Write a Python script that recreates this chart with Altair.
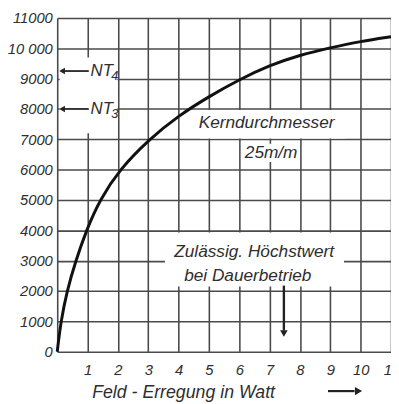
import altair as alt
import pandas as pd

# ---- data ----
curve_x = [0, 0.12, 0.32, 0.61, 0.96, 1.4, 2.05, 3.03, 4.0, 5.0, 6.0, 7.0, 8.0, 9.0, 10.0, 11.0]
curve_y = [0, 1000, 2000, 3000, 4000, 5000, 6000, 7000, 7780, 8410, 8970, 9440, 9780, 10020, 10230, 10380]

x_ticks = list(range(0, 12))
y_ticks = list(range(0, 11001, 1000))

# white label backgrounds (data units)
mask_x = [0.08, 4.7, 6.15, 3.55]
mask_x2 = [1.98, 9.5, 7.85, 9.45]
mask_y = [7200, 7030, 6250, 2150]
mask_y2 = [9700, 7970, 6850, 3930]

label_text = ["Kerndurchmesser", "25m/m", "Zulässig. Höchstwert", "bei Dauerbetrieb"]
label_x = [6.9, 7.05, 6.49, 6.28]
label_y = [7530, 6560, 3280, 2500]

nt_main = ["NT", "NT"]
nt_sub = ["4", "3"]
nt_y = [9250, 8000]
nt_arrow_x = [0.16, 0.16]
nt_arrow_x2 = [1.04, 1.04]
nt_text_x = [1.1, 1.1]

down_x = [7.47]
down_y = [2180]
down_y2 = [700]
down_head_y = [600]

FONT = "Liberation Sans"
TXT = "#2e2e2e"
GRID = "#4a4a4a"
W, H = 339, 339

curve_df = pd.DataFrame({"x": curve_x, "y": curve_y})
mask_df = pd.DataFrame({"x": mask_x, "x2": mask_x2, "y": mask_y, "y2": mask_y2})
lab_df = pd.DataFrame({"t": label_text, "x": label_x, "y": label_y})
nt_df = pd.DataFrame({"m": nt_main, "s": nt_sub, "y": nt_y, "ax": nt_arrow_x,
                      "ax2": nt_arrow_x2, "tx": nt_text_x})
down_df = pd.DataFrame({"x": down_x, "y": down_y, "y2": down_y2, "hy": down_head_y})

xs = alt.Scale(domain=[0, 11], nice=False, zero=False)
ys = alt.Scale(domain=[0, 11000], nice=False)

X_TITLE = "Feld - Erregung in Watt"
x_axis = alt.Axis(values=x_ticks, grid=True, gridColor=GRID, gridWidth=1.6, gridOpacity=1,
                  domain=False, ticks=False, labelPadding=11, labelFont=FONT,
                  labelFontStyle="italic", labelFontSize=15, labelColor=TXT,
                  labelExpr="datum.value == 0 ? '' : datum.label", labelFlush=False,
                  title=X_TITLE, titleFont=FONT, titleFontStyle="italic",
                  titleFontWeight="normal", titleFontSize=18, titleColor=TXT,
                  titleAnchor="start", titleAlign="left", titleX=35, titleY=46,
                  titleBaseline="alphabetic")
y_axis = alt.Axis(values=y_ticks, grid=True, gridColor=GRID, gridWidth=1.6, gridOpacity=1,
                  domain=False, ticks=False, labelPadding=5, labelFont=FONT,
                  labelFontStyle="italic", labelFontSize=15, labelColor=TXT, format="d",
                  labelExpr="datum.value == 10000 ? '10 000' : datum.label",
                  labelFlush=False, title="")


def X(f):
    return alt.X(f, scale=xs, axis=x_axis, title=X_TITLE)


def Y(f):
    return alt.Y(f, scale=ys, axis=y_axis, title="")


masks = alt.Chart(mask_df).mark_rect(fill="white").encode(
    x=X("x:Q"), x2="x2:Q", y=Y("y:Q"), y2="y2:Q",
)

curve = alt.Chart(curve_df).mark_line(color="#111111", strokeWidth=3, interpolate="basis").encode(
    x=X("x:Q"), y=Y("y:Q"),
)

labels = alt.Chart(lab_df).mark_text(font=FONT, fontStyle="italic", fontSize=17.5, color=TXT,
                                     align="center", baseline="middle").encode(
    x=X("x:Q"), y=Y("y:Q"), text="t:N",
)

nt_rule = alt.Chart(nt_df).mark_rule(color="#222", strokeWidth=1.8).encode(
    x=X("ax:Q"), x2="ax2:Q", y=Y("y:Q"),
)
nt_head = alt.Chart(nt_df).mark_point(shape="triangle-left", filled=True, color="#222",
                                      size=45, opacity=1).encode(
    x=X("ax:Q"), y=Y("y:Q"),
)
nt_text = alt.Chart(nt_df).mark_text(font=FONT, fontStyle="italic", fontSize=17, color=TXT,
                                     align="left", baseline="middle").encode(
    x=X("tx:Q"), y=Y("y:Q"), text="m:N",
)
nt_subt = alt.Chart(nt_df).mark_text(font=FONT, fontStyle="italic", fontSize=13, color=TXT,
                                     align="left", baseline="middle", dx=21, dy=5).encode(
    x=X("tx:Q"), y=Y("y:Q"), text="s:N",
)

down_rule = alt.Chart(down_df).mark_rule(color="#222", strokeWidth=2.4).encode(
    x=X("x:Q"), y=Y("y:Q"), y2="y2:Q",
)
down_head = alt.Chart(down_df).mark_point(shape="triangle-down", filled=True, color="#222",
                                          size=60, opacity=1).encode(
    x=X("x:Q"), y=Y("hy:Q"),
)

title_arrow = alt.Chart(down_df).mark_rule(color="#222", strokeWidth=2.2).encode(
    x=alt.value(275), x2=alt.value(302), y=alt.value(379),
)
title_head = alt.Chart(down_df).mark_point(shape="triangle-right", filled=True, color="#222",
                                           size=70, opacity=1).encode(
    x=alt.value(306), y=alt.value(379),
)

chart = alt.layer(
    masks, curve, labels, nt_rule, nt_head, nt_text, nt_subt,
    down_rule, down_head, title_arrow, title_head,
).properties(
    width=W, height=H,
    autosize=alt.AutoSizeParams(type="none"),
    padding={"left": 50, "top": 7, "right": 0, "bottom": 50},
    background="white",
).configure_view(stroke=None)

chart.save("out.html", embed_options={"renderer": "svg", "actions": False})
